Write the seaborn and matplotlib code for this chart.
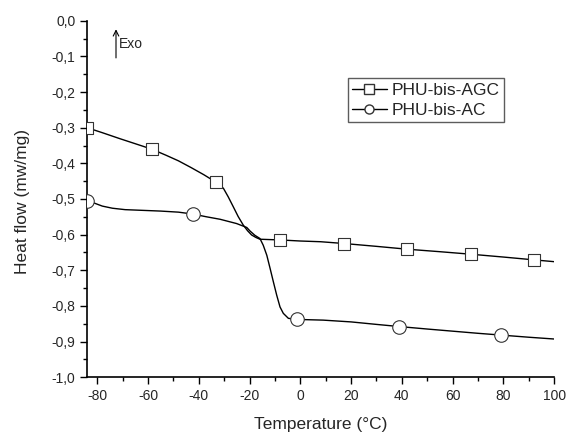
import matplotlib
matplotlib.use("Agg")
import matplotlib.pyplot as plt
from matplotlib.ticker import MultipleLocator, FuncFormatter
from matplotlib.lines import Line2D
import seaborn as sns
import pandas as pd

# ---- data ----
agc_curve_x = [-84, -78, -71, -65, -58.6, -53, -48, -43, -38, -33.2, -30.3, -28.4, -26.4,
               -24.5, -22.5, -20.8, -19.2, -17.5, -15.9, -12, -8, 0, 8, 17.2, 30, 42.1, 55,
               67.1, 80, 92.2, 100]
agc_curve_y = [-0.300, -0.314, -0.331, -0.345, -0.360, -0.377, -0.393, -0.412, -0.432, -0.453,
               -0.470, -0.494, -0.522, -0.549, -0.573, -0.589, -0.601, -0.608, -0.613, -0.614,
               -0.615, -0.618, -0.620, -0.625, -0.633, -0.641, -0.648, -0.655, -0.663, -0.671,
               -0.676]
ac_curve_x = [-84, -81, -78, -74, -69, -62, -55, -48, -42.2, -37, -31.6, -25.1, -21.1, -19.8,
              -17.9, -15.9, -14.6, -13.2, -11.9, -10.6, -9.3, -8.0, -6.7, -4.7, -1.3, 9, 20,
              30, 38.9, 50, 60, 70, 79.1, 90, 100]
ac_curve_y = [-0.505, -0.512, -0.520, -0.526, -0.530, -0.532, -0.534, -0.537, -0.5425, -0.550,
              -0.557, -0.569, -0.580, -0.590, -0.602, -0.611, -0.630, -0.658, -0.695, -0.733,
              -0.770, -0.803, -0.821, -0.835, -0.838, -0.840, -0.845, -0.852, -0.858, -0.865,
              -0.871, -0.877, -0.882, -0.888, -0.893]
agc_mark_x = [-84, -58.6, -33.2, -8.0, 17.2, 42.1, 67.1, 92.2]
agc_mark_y = [-0.302, -0.360, -0.453, -0.615, -0.625, -0.641, -0.655, -0.671]
ac_mark_x = [-84, -42.2, -1.3, 38.9, 79.1]
ac_mark_y = [-0.505, -0.5425, -0.838, -0.858, -0.882]
series_names = ["PHU-bis-AGC", "PHU-bis-AC"]

sns.set_style("ticks")
plt.rcParams["font.family"] = ["Liberation Sans", "DejaVu Sans"]
plt.rcParams["xtick.direction"] = "out"
plt.rcParams["ytick.direction"] = "out"

fig = plt.figure(figsize=(5.69, 4.33), dpi=100)
ax = fig.add_axes([0.153, 0.129, 0.821, 0.823])

agc_df = pd.DataFrame({"x": agc_curve_x, "y": agc_curve_y})
ac_df = pd.DataFrame({"x": ac_curve_x, "y": ac_curve_y})
sns.lineplot(data=agc_df, x="x", y="y", sort=False, color="black", lw=1.0, ax=ax, legend=False)
sns.lineplot(data=ac_df, x="x", y="y", sort=False, color="black", lw=1.0, ax=ax, legend=False)
sns.scatterplot(x=agc_mark_x, y=agc_mark_y, marker="s", s=75, facecolor="white",
                edgecolor="#333333", linewidth=0.8, ax=ax, zorder=3, legend=False)
sns.scatterplot(x=ac_mark_x, y=ac_mark_y, marker="o", s=95, facecolor="white",
                edgecolor="#333333", linewidth=0.8, ax=ax, zorder=3, legend=False)

ax.set_xlim(-84, 100)
ax.set_ylim(-1.0, 0.0)
ax.xaxis.set_major_locator(MultipleLocator(20))
ax.xaxis.set_minor_locator(MultipleLocator(10))
ax.yaxis.set_major_locator(MultipleLocator(0.1))
ax.yaxis.set_minor_locator(MultipleLocator(0.05))
ax.yaxis.set_major_formatter(FuncFormatter(lambda v, p: f"{v:.1f}".replace(".", ",")))
ax.xaxis.set_major_formatter(FuncFormatter(lambda v, p: f"{v:.0f}"))
ax.tick_params(which="major", length=5, width=1, labelsize=10, color="black")
ax.tick_params(which="minor", length=3, width=1, color="black")
for s in ["top", "right"]:
    ax.spines[s].set_visible(False)
for s in ["left", "bottom"]:
    ax.spines[s].set_linewidth(1.2)
    ax.spines[s].set_color("black")

ax.set_xlabel("Temperature (°C)", fontsize=12.5)
ax.set_ylabel("Heat flow (mw/mg)", fontsize=12.5)
ax.xaxis.set_label_coords(0.5, -0.113)
ax.yaxis.set_label_coords(-0.122, 0.492)

ax.annotate("", xy=(-72.6, -0.016), xytext=(-72.6, -0.112),
            arrowprops=dict(arrowstyle="->", color="black", lw=0.8))
ax.text(-71.6, -0.064, "Exo", fontsize=10, va="center", ha="left")

handles = [Line2D([], [], color="black", lw=1.0, marker="s", markersize=6.5,
                  markerfacecolor="white", markeredgecolor="#333333"),
           Line2D([], [], color="black", lw=1.0, marker="o", markersize=6.5,
                  markerfacecolor="white", markeredgecolor="#333333")]
leg = ax.legend(handles, series_names, loc="upper left", bbox_to_anchor=(0.558, 0.839),
                fontsize=12.5, frameon=True, fancybox=False, edgecolor="#333333",
                handlelength=2.0, handletextpad=0.3, borderpad=0.25, labelspacing=0.3,
                borderaxespad=0)
leg.get_frame().set_linewidth(1.0)

fig.savefig("out.png", dpi=100)
